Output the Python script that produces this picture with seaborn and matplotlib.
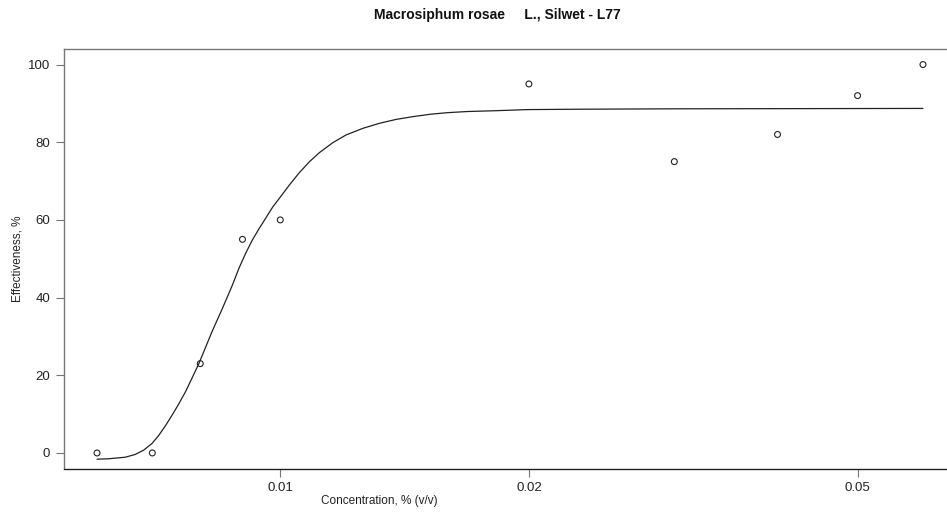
import numpy as np
import pandas as pd
import matplotlib
matplotlib.use("Agg")
import matplotlib.pyplot as plt
import seaborn as sns

# puntos observados
concentracion = [0.006, 0.007, 0.008, 0.009, 0.010, 0.020, 0.030, 0.040, 0.050, 0.060]
efectividad = [0, 0, 23, 55, 60, 95, 75, 82, 92, 100]

# curva ajustada
curva_x = [0.00600, 0.00619, 0.00649, 0.00667, 0.00683, 0.00699, 0.00712, 0.00726,
           0.00739, 0.00753, 0.00768, 0.00782, 0.00797, 0.00812, 0.00827, 0.00851,
           0.00875, 0.00891, 0.00908, 0.00925, 0.00943, 0.00956, 0.00979, 0.00997,
           0.01025, 0.01055, 0.01085, 0.01115, 0.01158, 0.01202, 0.01260, 0.01320,
           0.01383, 0.01449, 0.01519, 0.01592, 0.01683, 0.01814, 0.01992, 0.02310,
           0.03000, 0.06000]
curva_y = [-1.6, -1.5, -1.1, -0.4, 0.7, 2.4, 4.4, 7.0,
           9.6, 12.5, 15.8, 19.3, 23.0, 27.2, 31.3, 37.2,
           43.2, 47.5, 51.4, 54.8, 57.8, 59.8, 63.3, 65.5,
           68.9, 72.2, 75.0, 77.3, 79.9, 81.9, 83.6, 84.9,
           85.9, 86.6, 87.2, 87.6, 87.9, 88.1, 88.4, 88.5,
           88.6, 88.7]

xticks = [0.01, 0.02, 0.05]
xtick_labels = ["0.01", "0.02", "0.05"]
yticks = [0, 20, 40, 60, 80, 100]

datos = pd.DataFrame({"x": concentracion, "y": efectividad})
curva = pd.DataFrame({"x": curva_x, "y": curva_y})

sns.set_style("white")
plt.rcParams['font.family'] = ['Liberation Sans', 'DejaVu Sans']

fig = plt.figure(figsize=(9.47, 5.12), dpi=100)
# el area del grafico se sale por la derecha, como en el original
ax = fig.add_axes([64 / 947, 43.5 / 512, 892 / 947, 419.5 / 512])

sns.lineplot(data=curva, x="x", y="y", color="#222222", linewidth=0.9, ax=ax, sort=False)
sns.scatterplot(data=datos, x="x", y="y", marker="o", s=18, facecolor="none",
                edgecolor="#222222", linewidth=0.8, ax=ax)

ax.set_xscale("log")
lmin, lmax = np.log10(min(concentracion)), np.log10(max(concentracion))
pad = 0.04 * (lmax - lmin)
ax.set_xlim(10 ** (lmin - pad), 10 ** (lmax + pad))
ax.set_ylim(-4, 104)

ax.set_xticks(xticks)
ax.set_xticklabels(xtick_labels)
ax.xaxis.set_minor_locator(matplotlib.ticker.NullLocator())
ax.set_yticks(yticks)
ax.tick_params(axis="both", direction="out", length=6, width=0.8, color="#777777",
               labelsize=9.5, labelcolor="#222222", pad=4, left=True, bottom=True)

for lado in ["top", "left", "right"]:
    ax.spines[lado].set_color("#777777")
    ax.spines[lado].set_linewidth(1.0)
ax.spines["bottom"].set_color("#222222")
ax.spines["bottom"].set_linewidth(1.0)

ax.set_xlabel("Concentration, % (v/v)", fontsize=8.5, color="#222222")
ax.xaxis.set_label_coords(0.353, -0.062)
ax.set_ylabel("Effectiveness, %", fontsize=8.5, color="#222222")
ax.yaxis.set_label_coords(-0.045, 0.5)

fig.text(497 / 947, 1 - 15 / 512, "Macrosiphum rosae     L., Silwet - L77",
         ha="center", va="center", fontsize=10, fontweight="bold", color="#111111")

fig.savefig("out.png", dpi=100)
